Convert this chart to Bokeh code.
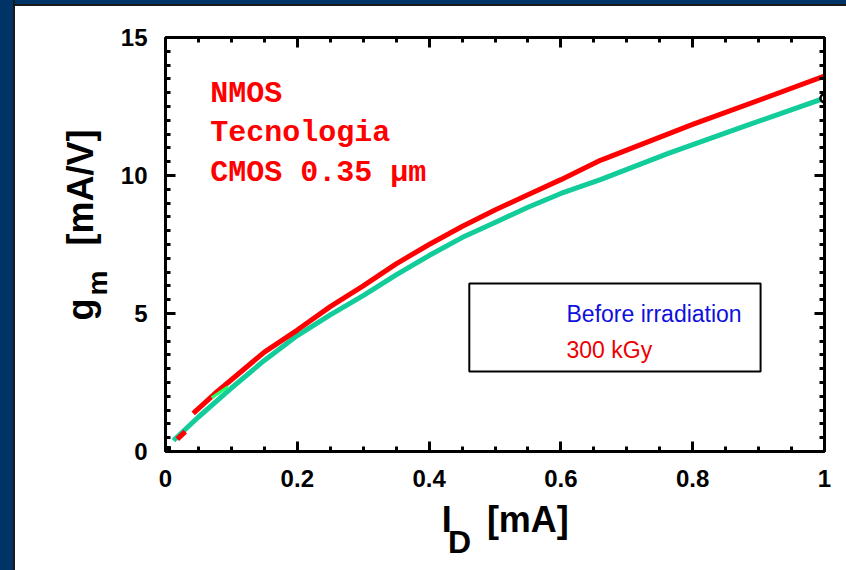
import numpy as np
from bokeh.plotting import figure
from bokeh.models import FixedTicker, LinearAxis, Label, BoxAnnotation, Div, Range1d
from bokeh.core.properties import value
from bokeh.layouts import row, column
from bokeh.embed import file_html
from bokeh.resources import INLINE

# ---- data ----
id_before = [0.012, 0.05, 0.1, 0.15, 0.2, 0.25, 0.3, 0.35, 0.4, 0.45, 0.5, 0.55, 0.6, 0.66, 0.763, 0.88, 1.0]
gm_before = [0.4, 1.25, 2.3, 3.3, 4.2, 4.95, 5.65, 6.4, 7.1, 7.75, 8.3, 8.85, 9.35, 9.85, 10.8, 11.8, 12.8]

id_300k_a = [0.018, 0.03]
gm_300k_a = [0.45, 0.72]
id_300k = [0.042, 0.075, 0.1, 0.15, 0.2, 0.25, 0.3, 0.35, 0.4, 0.45, 0.5, 0.55, 0.6, 0.66, 0.8, 1.0]
gm_300k = [1.38, 2.1, 2.6, 3.6, 4.4, 5.25, 6.0, 6.8, 7.5, 8.15, 8.75, 9.3, 9.85, 10.55, 11.85, 13.6]

id_mid = [0.07, 0.095]
gm_mid = [1.95, 2.35]

origin_x = [0.0]
origin_y = [0.0]
end_x = [1.0]
end_y = [12.8]

x_ticks = [0, 0.2, 0.4, 0.6, 0.8, 1.0]
x_tick_labels = ["0", "0.2", "0.4", "0.6", "0.8", "1"]
y_ticks = [0, 5, 10, 15]
y_tick_labels = ["0", "5", "10", "15"]
x_minor = [round(0.05 * i, 2) for i in range(21)]
y_minor = [0.5 * i for i in range(31)]

series_names = ["Before irradiation", "300 kGy"]
note_lines = ["NMOS", "Tecnologia", "CMOS 0.35 \u03bcm"]

NAVY = "#003366"
TEAL = "#12cc99"
RED = "#ff0000"

# ---------------- main plot ----------------
p = figure(width=730, height=494, x_range=Range1d(0, 1), y_range=Range1d(0, 15),
           output_backend="svg", toolbar_location=None,
           x_axis_type=None, y_axis_type=None,
           min_border_left=49, min_border_right=22, min_border_top=31, min_border_bottom=49,
           margin=(0, 0, 0, 0))
p.outline_line_color = None
p.background_fill_color = "white"
p.border_fill_color = "white"


def make_axis(ticks, minor, labels, show):
    ov = {t: (l if show else "") for t, l in zip(ticks, labels)}
    ax = LinearAxis(ticker=FixedTicker(ticks=ticks, minor_ticks=minor),
                    major_label_overrides=ov,
                    axis_line_width=3, axis_line_color="black",
                    major_tick_line_width=3, minor_tick_line_width=3,
                    major_tick_in=10, major_tick_out=0,
                    minor_tick_in=5, minor_tick_out=0,
                    major_label_text_font="Liberation Sans",
                    major_label_text_font_style="bold",
                    major_label_text_font_size="24px",
                    major_label_text_color="black",
                    major_label_standoff=18 if show else 0)
    return ax


p.add_layout(make_axis(x_ticks, x_minor, x_tick_labels, True), "below")
p.add_layout(make_axis(x_ticks, x_minor, x_tick_labels, False), "above")
p.add_layout(make_axis(y_ticks, y_minor, y_tick_labels, True), "left")
p.add_layout(make_axis(y_ticks, y_minor, y_tick_labels, False), "right")

p.line(id_before, gm_before, line_color=TEAL, line_width=5, line_join="round")
p.line(id_300k_a, gm_300k_a, line_color=RED, line_width=5)
p.line(id_300k, gm_300k, line_color=RED, line_width=5, line_join="round")
p.line(id_mid, gm_mid, line_color="#22ff66", line_width=3)

p.scatter(origin_x, origin_y, marker="square", size=10, color="black")
p.scatter(end_x, end_y, marker="circle", size=8, fill_color="white",
          line_color="black", line_width=2.5)

# notes
for txt, yy in zip(note_lines, [12.97, 11.55, 10.1]):
    p.add_layout(Label(x=0.068, y=yy, text=txt, text_font="Liberation Mono",
                       text_font_style="bold", text_font_size="30px",
                       text_color=RED, text_baseline="alphabetic"))

# legend box
p.add_layout(BoxAnnotation(left=0.461, right=0.903, top=6.09, bottom=2.9,
                           fill_color="white", fill_alpha=1.0,
                           line_color="black", line_width=2, line_alpha=1.0))
p.add_layout(Label(x=0.6085, y=5.0, text=series_names[0], text_font="Liberation Sans",
                   text_font_size="23px", text_color="#1010dd", text_baseline="middle"))
p.add_layout(Label(x=0.6085, y=3.66, text=series_names[1], text_font="Liberation Sans",
                   text_font_size="23px", text_color="#ee0000", text_baseline="middle"))


# ---------------- axis-title panels (coordinates = page pixels) ----------------
def title_panel(w, h, x0, x1, y_top, y_bottom):
    f = figure(width=w, height=h, x_range=Range1d(x0, x1), y_range=Range1d(y_bottom, y_top),
               output_backend="svg", toolbar_location=None, title=None,
               x_axis_type=None, y_axis_type=None, min_border=0,
               margin=(0, 0, 0, 0))
    f.outline_line_color = None
    f.background_fill_color = "white"
    f.border_fill_color = "white"
    return f


def add_txt(f, txt, x, y, size, angle=0.0):
    f.text(x=[x], y=[y], text=[txt], angle=angle,
           text_font=value("Liberation Sans"), text_font_style="bold",
           text_font_size=size, text_color="black",
           text_baseline="alphabetic", text_align="left")


ylab = title_panel(101, 564, 15, 116, 6, 570)
add_txt(ylab, "g", 80, 320, "36px", np.pi / 2)
add_txt(ylab, "m", 97, 295, "28px", np.pi / 2)
add_txt(ylab, "[mA/V]", 80, 245, "36px", np.pi / 2)

xlab = title_panel(730, 70, 116, 846, 500, 570)
add_txt(xlab, "I", 422, 519, "36px")
add_txt(xlab, "D", 429, 541, "32px")
add_txt(xlab, "[mA]", 472, 519, "36px")

left_bar = Div(text="", width=15, height=570, margin=(0, 0, 0, 0),
               styles={"background-color": NAVY, "border-right": "2px solid #1a1a1a",
                       "box-sizing": "border-box"})
top_bar = Div(text="", width=831, height=6, margin=(0, 0, 0, 0),
              styles={"background-color": NAVY, "border-bottom": "2px solid #1a1a1a",
                      "box-sizing": "border-box"})

layout = row(left_bar,
             column(top_bar,
                    row(ylab, column(p, xlab, spacing=0), spacing=0),
                    spacing=0),
             spacing=0)

open("out.html", "w").write(file_html(layout, INLINE))
